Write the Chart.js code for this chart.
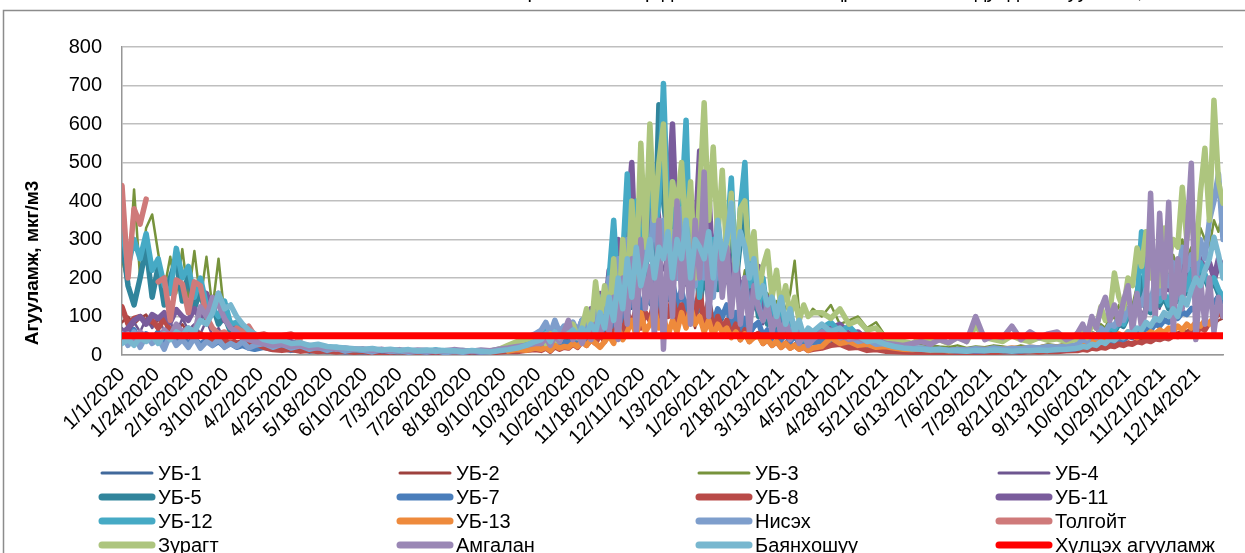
<!DOCTYPE html>
<html><head><meta charset="utf-8">
<script src="https://cdn.jsdelivr.net/npm/chart.js@4/dist/chart.umd.min.js"></script>
<style>html,body{margin:0;padding:0;background:#fff;}#wrap{width:1245px;height:553px;position:relative;overflow:hidden;}</style>
</head><body><div id="wrap"><canvas id="c" width="1245" height="553"></canvas></div>
<script>
// sample day index since 1/1/2020 (denser sampling in the winter seasons)
const days = [
// A: Jan-Mar 2020 (23)
0,4,8,12,16,20,24,28,32,36,40,44,48,52,56,60,64,68,72,76,80,84,88,
// B: Apr-Sep 2020 (31)
94,100,106,112,118,124,130,136,142,148,154,160,166,172,178,184,190,196,202,208,214,220,226,232,238,244,250,256,262,268,274,
// C: Oct 2020 - Apr 2021 (61)
278,281,284,287,290,293,296,299,302,305,
308,311,314,317,320,323,326,329,332,335,
338,341,344,347,350,353,356,359,362,365,
368,371,374,377,380,383,386,389,392,395,
398,401,404,407,410,413,416,419,422,425,
428,431,434,437,440,443,446,449,452,455,
458,
// D: Apr-Sep 2021 (29)
464,470,476,482,488,494,500,506,512,518,524,530,536,542,548,554,560,566,572,578,584,590,596,602,608,614,620,626,632,
// E: Oct-Dec 2021 (33)
634,637,640,643,646,649,652,655,658,661,664,667,670,673,676,679,682,685,688,691,694,697,700,703,706,709,712,715,718,721,724,727,730];

const tickLabels = ['1/1/2020','1/24/2020','2/16/2020','3/10/2020','4/2/2020','4/25/2020','5/18/2020','6/10/2020','7/3/2020','7/26/2020','8/18/2020','9/10/2020','10/3/2020','10/26/2020','11/18/2020','12/11/2020','1/3/2021','1/26/2021','2/18/2021','3/13/2021','4/5/2021','4/28/2021','5/21/2021','6/13/2021','7/6/2021','7/29/2021','8/21/2021','9/13/2021','10/6/2021','10/29/2021','11/21/2021','12/14/2021'];
const yTicks = [0,100,200,300,400,500,600,700,800];
const limitValue = [50, 50];
const limitDays = [0, 730];

const ub1 = [
60,40,70,35,55,45,65,38,50,30,55,35,45,28,40,30,35,25,30,20,25,18,20,
22,15,20,12,16,10,14,8,12,9,7,10,6,9,5,8,7,10,6,8,5,9,7,6,10,8,12,10,15,14,20,
20,30,18,35,25,30,28,40,30,45,
35,55,40,80,50,100,70,140,90,160,
120,180,100,150,130,200,110,160,140,180,
120,160,100,150,90,140,80,130,75,110,
90,120,70,100,60,90,50,70,80,45,
60,40,55,35,50,30,45,28,35,25,
30,
35,45,30,35,28,25,30,20,18,15,12,14,10,12,9,11,8,10,9,12,10,11,9,13,10,12,14,12,15,
15,20,18,25,22,30,28,38,35,45,40,55,50,65,60,75,70,85,80,95,90,105,100,115,110,125,120,135,130,145,140,160,150];

const ub2 = [
85,100,80,95,105,75,90,100,70,60,80,55,65,50,45,55,40,35,38,30,28,25,22,
25,18,14,20,12,15,10,13,8,11,9,7,10,6,8,5,9,7,6,8,7,5,8,6,9,7,10,12,10,15,18,
18,25,15,30,20,25,22,35,25,40,
30,45,35,60,40,80,55,100,70,120,
90,130,80,110,100,150,90,120,100,140,
90,120,80,110,70,130,60,100,55,85,
70,90,55,80,45,70,40,55,60,35,
45,30,40,25,35,22,30,18,25,15,
20,
25,30,35,25,28,18,20,14,12,10,9,11,7,9,6,8,7,9,6,8,7,9,6,10,8,9,11,10,12,
12,15,13,18,16,22,20,26,24,30,28,35,32,40,38,45,42,50,48,55,52,60,58,65,62,70,68,75,72,80,78,90,95];

const ub3 = [
250,180,430,200,330,365,265,170,255,160,275,150,270,140,255,120,250,100,90,70,60,55,45,
40,35,30,25,28,22,20,18,15,14,12,15,11,13,10,12,9,11,8,10,9,8,11,7,9,10,12,15,20,25,30,
35,45,30,55,40,50,45,60,50,70,
55,90,70,130,90,180,120,250,150,300,
350,200,300,250,280,400,300,350,250,420,
300,380,250,350,220,450,260,350,200,300,
220,280,180,250,150,220,130,180,200,120,
160,110,140,90,120,160,245,110,130,100,
120,
100,130,80,90,100,70,85,50,40,35,30,28,25,22,20,25,18,22,20,25,22,18,25,20,22,28,25,30,28,
35,45,40,60,55,80,70,100,95,130,110,150,130,180,160,170,140,200,180,230,200,260,220,300,250,280,240,330,300,280,350,320,380];

const ub4 = [
70,50,85,60,95,70,100,60,85,55,95,65,80,55,90,50,70,40,45,35,30,28,25,
30,25,20,22,18,15,17,13,15,11,12,10,12,9,11,8,10,9,7,10,8,9,7,10,8,9,12,15,20,25,30,
30,40,25,45,30,40,35,50,40,55,
45,70,55,100,70,140,100,200,120,250,
300,150,250,180,200,300,250,220,280,400,
200,300,180,250,200,350,180,280,150,220,
160,200,130,180,100,150,90,120,150,80,
100,60,80,50,70,40,60,35,45,30,
35,
40,55,45,40,45,30,35,22,20,17,15,13,12,11,10,12,9,11,10,12,9,11,10,12,11,13,12,14,15,
20,30,25,40,35,50,45,65,55,80,70,100,85,120,100,130,110,150,120,170,140,180,150,200,160,210,170,220,190,200,180,220,240];

const ub5 = [
300,180,130,200,280,150,230,130,200,250,140,210,120,170,90,130,80,100,60,70,45,50,35,
35,30,25,28,22,20,18,16,15,14,13,12,14,11,12,10,11,9,10,12,10,9,11,8,10,9,12,15,22,28,35,
40,55,35,60,30,50,40,45,35,60,
45,80,60,110,80,160,250,120,200,380,
150,300,220,180,420,250,650,400,300,350,
200,300,450,150,280,120,220,150,250,170,
200,250,350,180,300,380,150,200,100,170,
80,130,70,120,50,90,45,70,35,55,
45,
50,60,70,45,50,35,40,25,22,18,16,15,13,14,12,11,10,12,11,13,12,10,12,11,13,12,14,13,15,
25,35,30,45,40,55,50,65,60,80,75,100,90,130,200,120,110,160,130,150,120,170,140,190,160,210,180,230,200,170,190,160,140];

const ub7 = [
50,35,65,30,55,40,60,32,50,38,48,30,42,28,40,25,35,22,30,20,25,18,15,
20,15,18,12,14,10,12,9,11,8,9,7,10,8,6,9,7,8,6,9,7,6,8,5,9,6,10,12,16,20,25,
25,35,22,40,28,35,30,45,35,50,
40,60,45,85,55,110,75,150,90,170,
130,190,110,160,140,210,120,170,150,190,
130,170,110,160,100,150,90,140,80,120,
100,130,75,110,65,95,55,75,85,50,
65,45,60,40,55,35,50,30,40,28,
32,
35,40,48,32,35,24,28,18,16,14,12,13,10,11,9,10,8,9,10,11,9,10,8,11,10,12,11,13,14,
14,18,16,22,20,28,25,35,32,42,38,50,45,60,55,70,65,80,75,90,85,100,95,110,105,120,115,130,125,140,135,150,140];

const ub8 = [
125,80,95,100,85,90,70,95,60,75,55,60,50,55,45,40,45,35,40,30,35,28,30,
20,14,12,15,10,12,9,11,8,10,7,9,6,8,7,9,6,8,5,7,6,8,5,7,9,5,8,10,9,12,14,
12,18,10,22,15,20,18,28,20,35,
25,40,30,55,35,70,45,90,60,100,
80,120,70,110,90,140,80,130,100,150,
90,130,80,120,100,180,70,140,60,100,
70,90,50,80,40,65,35,50,55,30,
40,25,35,20,30,18,25,15,20,12,
15,
18,25,28,18,20,12,14,10,9,8,7,8,6,7,5,6,7,8,6,7,8,9,7,9,8,10,9,11,12,
12,15,13,18,16,20,18,24,22,28,25,30,28,35,32,38,35,42,40,45,42,50,48,55,52,60,58,70,65,85,90,110,100];

const ub11 = [
55,70,90,100,80,105,95,110,85,118,100,90,120,95,160,110,160,90,80,60,50,45,40,
38,30,42,35,28,25,22,20,18,16,15,13,12,11,10,12,9,11,8,10,9,12,8,10,7,9,12,15,18,22,28,
50,65,45,80,40,60,50,70,55,90,
60,120,80,160,100,220,150,300,180,350,
500,200,400,300,250,450,350,300,400,600,
300,450,250,400,300,530,250,430,200,350,
220,300,180,260,150,200,120,180,230,100,
150,80,120,60,100,50,80,40,60,35,
45,
55,70,80,55,60,40,45,30,25,20,18,16,14,13,12,11,12,10,11,13,12,10,11,12,14,12,15,14,16,
25,35,30,45,40,60,55,80,70,100,90,120,100,150,130,160,140,180,150,200,170,220,180,240,200,260,210,250,220,240,200,250,230];

const ub12 = [
330,230,300,250,315,220,250,180,160,277,200,230,150,200,130,120,100,140,80,85,60,55,45,
40,32,35,28,30,22,25,18,20,15,14,13,15,12,13,11,12,10,11,13,11,10,12,9,11,10,13,18,25,35,45,
60,80,50,85,40,70,55,60,45,90,
60,110,80,150,100,200,350,150,250,470,
200,400,300,250,550,300,400,705,350,450,
250,380,610,200,350,150,280,180,300,200,
250,300,460,200,380,500,180,250,120,200,
100,150,80,150,60,100,50,80,40,60,
50,
70,85,60,75,50,55,40,35,28,22,18,16,14,13,12,14,11,13,12,14,12,13,11,14,12,15,14,16,18,
30,40,35,50,45,60,55,70,65,90,80,110,95,140,320,150,120,180,140,160,130,180,150,200,170,220,190,240,210,180,200,170,150];

const ub13 = [
null,null,null,null,null,null,null,null,null,null,null,null,null,null,null,null,null,null,null,null,null,null,null,
null,null,null,null,null,null,null,null,null,null,null,null,null,null,null,null,null,null,null,null,null,null,null,null,null,null,null,10,14,12,18,
15,20,12,25,18,22,20,30,22,35,
25,40,30,20,35,50,30,70,40,60,
90,50,110,60,80,120,70,100,50,90,
60,110,70,125,80,100,60,90,50,80,
60,70,45,60,40,55,35,45,50,30,
40,25,35,20,30,18,25,15,22,12,
18,
22,45,30,35,25,28,20,22,18,15,14,16,12,14,11,13,12,15,14,17,15,18,16,20,18,22,20,25,24,
25,30,28,35,32,40,38,45,42,55,48,60,50,45,55,50,60,55,65,58,70,62,75,65,80,70,85,75,90,80,100,120,110];

const nisekh = [
55,25,60,20,50,30,45,15,55,25,40,20,45,18,35,25,40,20,30,22,35,18,25,
30,20,28,18,24,15,20,12,18,10,15,12,8,14,9,11,7,10,8,12,6,9,7,11,8,10,15,20,30,45,55,
65,85,55,90,60,75,70,85,60,90,
70,110,80,150,100,200,130,250,150,300,
180,350,220,300,250,400,200,350,280,320,
200,380,250,300,180,350,200,300,150,280,
180,250,150,220,120,200,100,160,130,90,
120,70,100,60,90,50,80,40,60,35,
45,
55,65,45,50,35,40,28,30,22,20,16,18,14,15,12,14,13,16,14,18,15,17,16,20,18,22,20,24,26,
30,40,35,55,45,70,60,80,75,100,90,120,100,150,130,170,120,200,160,220,180,240,200,280,220,260,200,300,250,350,400,470,300];

const tolgoit = [
440,200,380,340,405,null,190,200,90,195,185,110,190,180,100,70,55,60,45,70,60,75,50,
55,45,50,55,40];

const zuragt = [
// A (23)
null,null,null,null,null, null,null,null,null,null, null,null,null,null,null, null,null,null,null,null, null,null,null,
// B (31)
null,null,null,null,null, null,null,null,null,null, null,null,null,null,null, null,null,null,null,null, null,null,null,null,null,
10,15,25,35,40,50,
// C (61)
45,30,55,40,35,60,50,80,45,70,
120,60,190,90,180,100,250,80,300,150,
400,200,550,280,600,350,500,600,250,450,
380,500,300,450,200,420,655,350,540,300,
480,250,420,200,380,400,250,320,150,230,
270,150,220,120,180,100,150,90,130,100,
110,
// D (29)
110,95,120,80,90,65,70,45,40,35,30,45,35,40,30,50,35,75,45,40,35,50,40,35,45,38,42,35,40,
// E (33)
50,60,45,80,70,125,90,110,213,150,120,200,180,278,230,320,200,250,180,330,250,300,280,436,300,380,250,420,537,350,662,450,394];

const amgalan = [
40,55,30,60,45,50,35,65,50,80,60,70,55,125,100,150,130,95,70,60,45,40,35,
30,25,28,22,25,20,18,20,15,18,14,16,12,15,11,14,10,13,12,9,11,14,12,10,13,11,15,18,22,25,30,
30,45,25,50,35,60,90,40,55,30,
60,40,80,50,100,60,150,40,200,80,
250,60,300,120,230,50,350,15,300,100,
400,150,280,80,350,200,475,100,250,317,
150,280,100,250,80,200,60,180,120,90,
130,60,110,50,90,40,70,30,55,25,
40,
60,50,55,40,45,35,38,30,28,25,30,35,28,40,32,45,35,100,40,50,45,75,40,60,45,55,60,40,50,
60,80,50,100,70,120,150,90,130,80,140,180,60,160,70,120,420,90,368,150,397,60,250,120,300,498,40,200,80,200,60,150,100];

const bayankhoshuu = [
30,40,25,45,35,50,30,55,40,60,50,70,60,90,80,110,160,120,130,100,80,65,55,
40,35,38,30,32,25,28,22,20,18,16,15,17,13,15,12,14,11,13,10,12,11,9,12,10,8,11,14,18,25,35,
40,55,35,60,45,50,55,65,50,70,
55,80,60,110,70,150,90,200,120,250,
150,280,180,230,300,200,280,250,320,200,
300,250,350,200,300,280,250,320,200,350,
250,300,395,220,320,280,200,250,150,180,
130,150,100,150,80,120,60,90,50,70,
60,
80,60,70,45,50,35,38,28,22,18,16,15,13,14,12,11,10,12,11,13,12,10,12,11,13,12,14,15,17,
18,22,20,28,25,35,30,42,38,50,45,60,55,70,65,85,75,95,90,110,100,120,100,150,130,170,200,180,220,250,306,260,200];

const seriesNames = ['УБ-1','УБ-2','УБ-3','УБ-4','УБ-5','УБ-7','УБ-8','УБ-11','УБ-12','УБ-13','Нисэх','Толгойт','Зурагт','Амгалан','Баянхошуу','Хүлцэх агууламж'];
const seriesValues = [ub1,ub2,ub3,ub4,ub5,ub7,ub8,ub11,ub12,ub13,nisekh,tolgoit,zuragt,amgalan,bayankhoshuu,limitValue];
const chartTitle = 'Улаанбаатар хотын агаар дахь PM10 тоосонцрын хоногийн дундаж агууламж, 2020-2021 он';
const yTitle = 'Агууламж, мкг/м3';

// sanity check of array lengths
const problems = [];
if (days.length !== 177) problems.push('days ' + days.length);
seriesValues.forEach((v, i) => {
  if (v !== tolgoit && v !== limitValue && v.length !== days.length)
    problems.push(seriesNames[i] + ' ' + v.length);
});
if (problems.length) console.error('length mismatch: ' + problems.join(', '));

// styles
const colors = ['#41699B','#9E413E','#77933C','#6E5690','#31859C','#4A7EBB','#B94A48','#7A5C9C','#46AAC5','#EE8A3C','#7E9ECC','#CF7A7A','#ADC57E','#9A87B5','#78B7CF','#FF0000'];
const widths = [2.5,2.5,2.5,2.5,5.5,5.5,5.5,5.5,5.5,5.5,5.5,5.5,5.5,5.5,5.5,7];
const legendWidths = [3,3,3,3,7,7,7,7,7,7,7,7,7,7,7,7];

const FONT = "'Liberation Sans', Arial, sans-serif";
const tickDays = tickLabels.map((_, k) => k * 23);

const datasets = seriesNames.map((name, i) => {
  const vals = seriesValues[i];
  const xs = (i === seriesNames.length - 1) ? limitDays : days;
  return {
    label: name,
    data: vals.map((v, j) => ({x: xs[j], y: v})),
    borderColor: colors[i],
    backgroundColor: colors[i],
    borderWidth: widths[i],
    pointRadius: 0,
    tension: 0,
    borderJoinStyle: 'round',
    borderCapStyle: 'round',
    spanGaps: false,
    order: seriesNames.length - i
  };
});

const decor = {
  id: 'decor',
  beforeDraw(chart) {
    const ctx = chart.ctx;
    ctx.save();
    ctx.fillStyle = '#fff';
    ctx.fillRect(0, 0, chart.width, chart.height);
    ctx.strokeStyle = '#8C8C8C';
    ctx.lineWidth = 1.5;
    ctx.strokeRect(3.5, 10.5, 1300, 600);
    ctx.fillStyle = '#000';
    ctx.font = '20px ' + FONT;
    ctx.textAlign = 'center';
    ctx.textBaseline = 'alphabetic';
    ctx.fillText(chartTitle, 845, -2);
    ctx.restore();
  },
  afterDraw(chart) {
    const ctx = chart.ctx;
    ctx.save();
    ctx.translate(33, 263);
    ctx.rotate(-Math.PI / 2);
    ctx.font = 'bold 19px ' + FONT;
    ctx.fillStyle = '#000';
    ctx.textAlign = 'center';
    ctx.textBaseline = 'middle';
    ctx.fillText(yTitle, 0, 0);
    ctx.restore();
    const colX = [100, 398, 697, 997];
    const rowY = [473, 497, 521, 545];
    ctx.save();
    ctx.font = '20px ' + FONT;
    ctx.textBaseline = 'middle';
    ctx.textAlign = 'left';
    seriesNames.forEach((name, i) => {
      const x = colX[i % 4], y = rowY[Math.floor(i / 4)];
      ctx.strokeStyle = colors[i];
      ctx.lineWidth = legendWidths[i];
      ctx.lineCap = 'round';
      ctx.beginPath();
      ctx.moveTo(x + 2, y);
      ctx.lineTo(x + 52, y);
      ctx.stroke();
      ctx.fillStyle = '#000';
      ctx.fillText(name, x + 58, y + 1);
    });
    ctx.restore();
  }
};

new Chart(document.getElementById('c'), {
  type: 'line',
  data: { datasets },
  options: {
    responsive: false,
    animation: false,
    layout: { padding: { top: 47, right: 22, left: 0, bottom: 0 } },
    plugins: { legend: { display: false }, tooltip: { enabled: false }, title: { display: false } },
    scales: {
      x: {
        type: 'linear', min: 0, max: 730,
        grid: { display: false, drawTicks: false },
        border: { display: true, color: '#969696', width: 1.5 },
        ticks: {
          autoSkip: false, maxRotation: 45, minRotation: 45, padding: 8,
          color: '#000', font: { family: FONT, size: 20 },
          callback: (v) => { const k = tickDays.indexOf(v); return k >= 0 ? tickLabels[k] : ''; }
        },
        afterBuildTicks: (s) => { s.ticks = tickDays.map(v => ({ value: v })); },
        afterFit: (s) => { s.height = 198; }
      },
      y: {
        min: 0, max: 800,
        grid: { color: '#BFBFBF', lineWidth: 1.5, drawTicks: false },
        border: { display: true, color: '#969696', width: 1.5 },
        ticks: { stepSize: 100, padding: 20, color: '#000', font: { family: FONT, size: 20 } },
        afterBuildTicks: (s) => { s.ticks = yTicks.map(v => ({ value: v })); },
        afterFit: (s) => { s.width = 122; }
      }
    }
  },
  plugins: [decor]
});
</script></body></html>
